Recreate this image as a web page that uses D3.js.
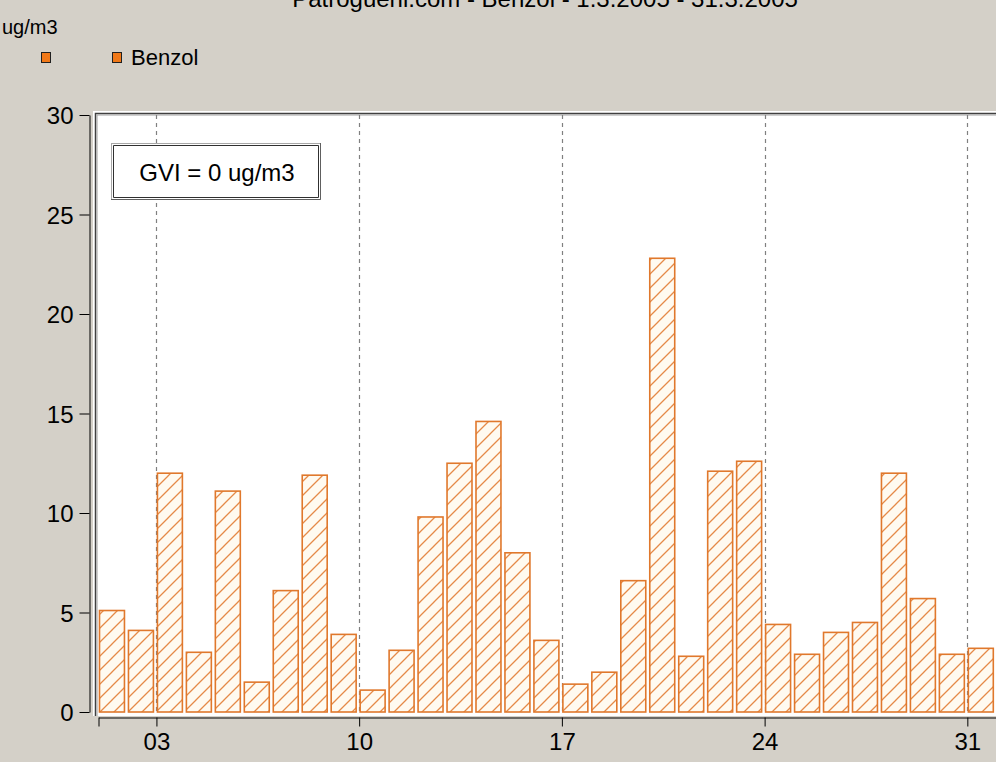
<!DOCTYPE html>
<html>
<head>
<meta charset="utf-8">
<script src="https://cdn.jsdelivr.net/npm/d3@7/dist/d3.min.js"></script>
<style>
  html, body { margin: 0; padding: 0; background: #d4d0c8; overflow: hidden; }
  svg { display: block; font-family: "Liberation Sans", Arial, sans-serif; }
</style>
</head>
<body>
<svg id="chart" width="996" height="762"></svg>
<script>
// ---- data ----
const chartTitle = "Patrogueni.com - Benzol - 1.3.2005 - 31.3.2005";
const unitLabel = "ug/m3";
const seriesName = "Benzol";
const gviLabel = "GVI = 0 ug/m3";
const days = [1,2,3,4,5,6,7,8,9,10,11,12,13,14,15,16,17,18,19,20,21,22,23,24,25,26,27,28,29,30,31];
const benzol = [5.1,4.1,12.0,3.0,11.1,1.5,6.1,11.9,3.9,1.1,3.1,9.8,12.5,14.6,8.0,3.6,1.4,2.0,6.6,22.8,2.8,12.1,12.6,4.4,2.9,4.0,4.5,12.0,5.7,2.9,3.2];
const xTickDays = [3,10,17,24,31];
const xTickLabels = ["03","10","17","24","31"];
const yTicks = [0,5,10,15,20,25,30];

// ---- layout ----
const svg = d3.select("#chart");
const W = 996, H = 762;
const plotLeft = 93, plotTop = 111, plotBottom = 716;

const x = d3.scaleLinear().domain([1, 32]).range([98.5, 996.3]);
const y = d3.scaleLinear().domain([0, 30]).range([712, 115]);

const barColor = "#e0782c";
const hatchColor = "#e58a48";

const defs = svg.append("defs");
const pat = defs.append("pattern")
  .attr("id", "hatch").attr("patternUnits", "userSpaceOnUse")
  .attr("width", 14).attr("height", 14);
pat.append("rect").attr("width", 14).attr("height", 14).attr("fill", "#fffaf0");
pat.append("path").attr("d", "M-2,16 L16,-2 M-2,2 L2,-2 M12,16 L16,12")
  .attr("stroke", hatchColor).attr("stroke-width", 1.3);

// title (mostly cut off at top, as in the original)
svg.append("text").attr("x", 545).attr("y", 7).attr("text-anchor", "middle")
  .attr("font-size", 24).attr("fill", "#000").text(chartTitle);

// unit label & legend
svg.append("text").attr("x", 2).attr("y", 34).attr("font-size", 20).attr("fill", "#000").text(unitLabel);
svg.append("rect").attr("x", 41.5).attr("y", 52.5).attr("width", 9).attr("height", 10)
  .attr("fill", "#f07818").attr("stroke", "#202020");
svg.append("rect").attr("x", 112.5).attr("y", 52.5).attr("width", 9).attr("height", 10)
  .attr("fill", "#f07818").attr("stroke", "#202020");
svg.append("text").attr("x", 131).attr("y", 65).attr("font-size", 22).attr("fill", "#000").text(seriesName);

// plot frame
svg.append("rect").attr("x", plotLeft).attr("y", plotTop).attr("width", W - plotLeft + 5).attr("height", plotBottom - plotTop)
  .attr("fill", "#ffffff");
svg.append("path").attr("d", `M${plotLeft + 2.5},${plotBottom} V${plotTop + 2.5} H${W + 2}`)
  .attr("fill", "none").attr("stroke", "#404040").attr("stroke-width", 1.5);
svg.append("path").attr("d", `M${plotLeft + 4},${plotBottom} V${plotTop + 4} H${W + 2}`)
  .attr("fill", "none").attr("stroke", "#a0a0a0").attr("stroke-width", 1);

// vertical dashed gridlines
svg.append("g").selectAll("line").data(xTickDays).join("line")
  .attr("x1", d => Math.round(x(d)) + 0.5).attr("x2", d => Math.round(x(d)) + 0.5)
  .attr("y1", plotTop + 4).attr("y2", plotBottom - 1)
  .attr("stroke", "#808080").attr("stroke-width", 1.2).attr("stroke-dasharray", "4,4");

// bars
const step = x(2) - x(1);
svg.append("g").selectAll("rect").data(days).join("rect")
  .attr("x", (d) => x(d) + 1)
  .attr("y", (d, i) => y(benzol[i]))
  .attr("width", step - 4)
  .attr("height", (d, i) => y(0) - y(benzol[i]))
  .attr("fill", "url(#hatch)")
  .attr("stroke", barColor).attr("stroke-width", 1.6);

// GVI box
const gb = svg.append("g");
gb.append("rect").attr("x", 111.5).attr("y", 143.5).attr("width", 209).attr("height", 56)
  .attr("fill", "#ffffff").attr("stroke", "#a8a8a8");
gb.append("path").attr("d", "M113.5,197.5 V145.5 H318.5 V197.5 Z").attr("fill", "none").attr("stroke", "#303030");
gb.append("path").attr("d", "M320.5,143 V199.5 H111").attr("fill", "none").attr("stroke", "#606060");
gb.append("text").attr("x", 217).attr("y", 181).attr("text-anchor", "middle")
  .attr("font-size", 24).attr("fill", "#000").text(gviLabel);

// y axis
const yAxis = d3.axisLeft(y).tickValues(yTicks).tickSize(10).tickPadding(6).tickSizeOuter(0);
const gy = svg.append("g").attr("transform", "translate(89.5,0)").call(yAxis);
gy.select(".domain").attr("stroke", "#000");
gy.selectAll(".tick line").attr("stroke", "#000");
gy.selectAll(".tick text").attr("font-size", 24).attr("fill", "#000")
  .attr("font-family", "Liberation Sans, Arial, sans-serif").attr("dy", "0.36em");

// x axis
const xAxis = d3.axisBottom(x).tickValues([1, ...xTickDays, 32]).tickSize(9).tickPadding(6).tickSizeOuter(0)
  .tickFormat(d => { const k = xTickDays.indexOf(d); return k >= 0 ? xTickLabels[k] : ""; });
const gx = svg.append("g").attr("transform", "translate(0,717.5)").call(xAxis);
gx.select(".domain").attr("stroke", "#000");
gx.selectAll(".tick line").attr("stroke", "#000");
gx.selectAll(".tick text").attr("font-size", 24).attr("fill", "#000")
  .attr("font-family", "Liberation Sans, Arial, sans-serif");
</script>
</body>
</html>
